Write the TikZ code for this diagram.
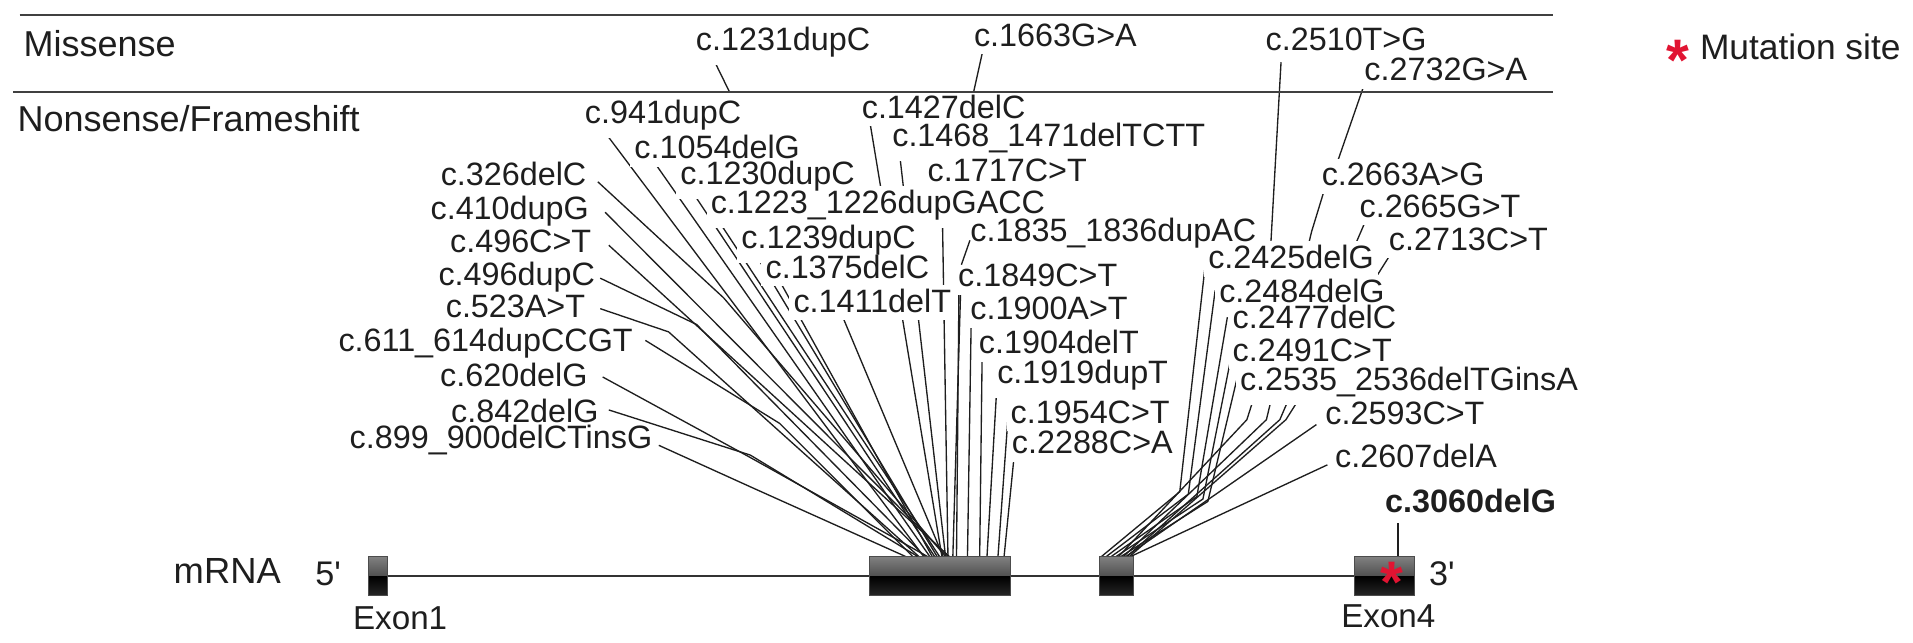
\documentclass[tikz,border=0pt]{standalone}
\usepackage{fontspec}
\setmainfont{Liberation Sans}
\newfontfamily\rawsans{Liberation Sans}
\usetikzlibrary{calc}
\pgfdeclarelayer{lines}
\pgfdeclarelayer{mask}
\pgfsetlayers{lines,mask,main}
\definecolor{ink}{RGB}{30,30,30}
\definecolor{mred}{RGB}{225,20,50}
\tikzset{
  lab/.style={font=\fontsize{13.25}{15}\selectfont, text=ink, inner sep=0pt},
  big/.style={font=\fontsize{14.75}{17}\selectfont, text=ink, inner sep=0pt},
  conn/.style={draw=ink, line width=0.55pt, line join=round},
  sepline/.style={draw=black!75, line width=0.9pt},
  backbone/.style={draw=black!80, line width=0.9pt},
  exon/.style={draw=black!70, line width=0.4pt, minimum height=16pt, inner sep=0pt, anchor=north west,
    path picture={
      \shade[top color=black!50, bottom color=black!88] (path picture bounding box.north west) rectangle (path picture bounding box.east);
      \shade[top color=black, bottom color=black!85] (path picture bounding box.west) rectangle (path picture bounding box.south east);
    }},
  redast/.style={font=\fontsize{24}{24}\selectfont\bfseries, text=mred, inner sep=0pt},
}
% #1 extra style, #2 name, #3 anchor, #4 position, #5 text
\newcommand\mutlab[5][]{%
  \node[lab,#1,anchor=#3] (#2) at (#4) {#5};
  \begin{pgfonlayer}{mask}
    \fill[white] ($(#2.north west)+(-3,-3)$) rectangle ($(#2.south east)+(3,6)$);
  \end{pgfonlayer}}
\begin{document}
\begin{tikzpicture}[x=0.5pt,y=-0.5pt]
\useasboundingbox (0,0) rectangle (1568,527);

% separators
\draw[sepline] (16,12) -- (1273,12);
\draw[sepline] (11,75.5) -- (1273,75.5);

\node[big, anchor=base west] (miss) at (19,46) {Missense};
\node[big, anchor=base west] (nons) at (14,108) {Nonsense/Frameshift};

% exons
\node[exon, minimum width=7.5pt] (e1) at (302,456) {};
\node[exon, minimum width=58pt] (e2) at (712,456) {};
\node[exon, minimum width=14pt] (e3) at (901,456) {};
\node[exon, minimum width=24.5pt] (e4) at (1110,456) {};
\begin{pgfonlayer}{lines}
\draw[backbone] (e1.east) -- (e4.west);
\end{pgfonlayer}

\node[font=\fontsize{14.9}{17}\selectfont, text=ink, inner sep=0pt, anchor=base west] (mrna) at (142,478) {mRNA};
\node[font=\rawsans\fontsize{14}{16}\selectfont, text=ink, inner sep=0pt, anchor=base west] (p5) at (258,480) {5'};
\node[font=\rawsans\fontsize{14}{16}\selectfont, text=ink, inner sep=0pt, anchor=base west] (p3) at (1171,480) {3'};
\node[font=\fontsize{13.6}{16}\selectfont, text=ink, inner sep=0pt, anchor=base west] (x1) at (289,516) {Exon1};
\node[font=\fontsize{13.6}{16}\selectfont, text=ink, inner sep=0pt, anchor=base west] (x4) at (1099,514) {Exon4};
\node[redast, anchor=base] (star2) at (1141,494) {*};

% legend
\node[redast, anchor=base] (star1) at (1375,66) {*};
\node[font=\fontsize{14.5}{17}\selectfont, text=ink, inner sep=0pt, anchor=base west] (leg) at (1393,49) {Mutation site};

% labels left
\mutlab{n941}{base east}{608,101}{c.941dupC}
\mutlab{n1054}{base east}{656,130}{c.1054delG}
\mutlab{n1230}{base east}{701,151}{c.1230dupC}
\mutlab{n1223}{base east}{857,175}{c.1223\_1226dupGACC}
\mutlab{n1239}{base east}{751,204}{c.1239dupC}
\mutlab{n1375}{base east}{762,228}{c.1375delC}
\mutlab{n1411}{base east}{780,256}{c.1411delT}
\mutlab{n326}{base east}{481,152}{c.326delC}
\mutlab{n410}{base east}{483,180}{c.410dupG}
\mutlab{n496a}{base east}{485,207}{c.496C>T}
\mutlab{n496b}{base east}{488,234}{c.496dupC}
\mutlab{n523}{base east}{480,260}{c.523A>T}
\mutlab{n611}{base east}{519,288}{c.611\_614dupCCGT}
\mutlab{n620}{base east}{482,317}{c.620delG}
\mutlab{n842}{base east}{491,346}{c.842delG}
\mutlab{n899}{base east}{535,368}{c.899\_900delCTinsG}
% labels middle / right
\mutlab{n1231}{base west}{570,41}{c.1231dupC}
\mutlab{n1663}{base west}{798,38}{c.1663G>A}
\mutlab{n1427}{base west}{706,97}{c.1427delC}
\mutlab{n1468}{base west}{731,120}{c.1468\_1471delTCTT}
\mutlab{n1717}{base west}{760,149}{c.1717C>T}
\mutlab{n1835}{base west}{795,198}{c.1835\_1836dupAC}
\mutlab{n1849}{base west}{785,235}{c.1849C>T}
\mutlab{n1900}{base west}{795,262}{c.1900A>T}
\mutlab{n1904}{base west}{802,290}{c.1904delT}
\mutlab{n1919}{base west}{817,314}{c.1919dupT}
\mutlab{n1954}{base west}{828,347}{c.1954C>T}
\mutlab{n2288}{base west}{829,372}{c.2288C>A}
\mutlab{n2510}{base west}{1037,41}{c.2510T>G}
\mutlab{n2732}{base west}{1118,66}{c.2732G>A}
\mutlab{n2663}{base west}{1083,152}{c.2663A>G}
\mutlab{n2665}{base west}{1114,178}{c.2665G>T}
\mutlab{n2713}{base west}{1138,205}{c.2713C>T}
\mutlab{n2425}{base west}{990,220}{c.2425delG}
\mutlab{n2484}{base west}{999,248}{c.2484delG}
\mutlab{n2477}{base west}{1010,269}{c.2477delC}
\mutlab{n2491}{base west}{1010,296}{c.2491C>T}
\mutlab{n2535}{base west}{1016,320}{c.2535\_2536delTGinsA}
\mutlab{n2593}{base west}{1086,348}{c.2593C>T}
\mutlab{n2607}{base west}{1094,383}{c.2607delA}
\mutlab[font=\fontsize{13.25}{15}\selectfont\bfseries]{n3060}{base west}{1135,420}{c.3060delG}

% connectors that run in front of neighbouring label boxes
\coordinate (s842) at (499,336); \coordinate (k842) at (615,373); \coordinate (t842) at (752,456);
\draw[conn] (s842) -- (k842) -- (t842);
\coordinate (s1835) at (795,197); \coordinate (k1835) at (788,217); \coordinate (t1835) at (781,456);
\draw[conn] (s1835) -- (k1835);

\begin{pgfonlayer}{lines}
% left cluster
\coordinate (s941) at (494,106); \coordinate (t941) at (757,456);
\coordinate (s1054) at (537,134); \coordinate (t1054) at (762,456);
\coordinate (s1230) at (566,155); \coordinate (t1230) at (766,456);
\coordinate (s1223) at (587,178); \coordinate (t1223) at (770,456);
\coordinate (s1239) at (619,208); \coordinate (t1239) at (768,456);
\coordinate (s1375) at (640,232); \coordinate (t1375) at (764,456);
\coordinate (s1411) at (690,258); \coordinate (t1411) at (773,456);
\coordinate (s326) at (490,149); \coordinate (k326) at (593,244); \coordinate (t326) at (775,456);
\coordinate (s410) at (496,174); \coordinate (t410) at (777,456);
\coordinate (s496a) at (499,201); \coordinate (t496a) at (778,456);
\coordinate (s496b) at (492,228); \coordinate (k496b) at (571,266); \coordinate (t496b) at (758,456);
\coordinate (s523) at (492,253); \coordinate (k523) at (548,272); \coordinate (t523) at (753,456);
\coordinate (s611) at (529,279); \coordinate (k611) at (639,347); \coordinate (t611) at (748,456);
\coordinate (s620) at (494,309); \coordinate (k620) at (615,375); \coordinate (t620) at (760,456);
\coordinate (s899) at (540,365); \coordinate (k899) at (615,399); \coordinate (t899) at (742,456);
\draw[conn] (s941) -- (t941);
\draw[conn] (s1054) -- (t1054);
\draw[conn] (s1230) -- (t1230);
\draw[conn] (s1223) -- (t1223);
\draw[conn] (s1239) -- (t1239);
\draw[conn] (s1375) -- (t1375);
\draw[conn] (s1411) -- (t1411);
\draw[conn] (s326) -- (k326) -- (t326);
\draw[conn] (s410) -- (t410);
\draw[conn] (s496a) -- (t496a);
\draw[conn] (s496b) -- (k496b) -- (t496b);
\draw[conn] (s523) -- (k523) -- (t523);
\draw[conn] (s611) -- (k611) -- (t611);
\draw[conn] (s620) -- (k620) -- (t620);
\draw[conn] (s899) -- (k899) -- (t899);
% middle
\coordinate (s1427) at (713,100); \coordinate (t1427) at (772,456);
\coordinate (s1468) at (737,123); \coordinate (t1468) at (775,456);
\coordinate (s1717) at (772,150); \coordinate (t1717) at (777,456);
\coordinate (s1849) at (786,238); \coordinate (t1849) at (784,456);
\coordinate (s1900) at (796,265); \coordinate (t1900) at (793,456);
\coordinate (s1904) at (805,292); \coordinate (t1904) at (803,456);
\coordinate (s1919) at (817,318); \coordinate (t1919) at (809,456);
\coordinate (s1954) at (826,345); \coordinate (t1954) at (818,456);
\coordinate (s2288) at (831,376); \coordinate (t2288) at (823,456);
\draw[conn] (s1427) -- (t1427);
\draw[conn] (s1468) -- (t1468);
\draw[conn] (s1717) -- (t1717);
\draw[conn] (k1835) -- (t1835);
\draw[conn] (s1849) -- (t1849);
\draw[conn] (s1900) -- (t1900);
\draw[conn] (s1904) -- (t1904);
\draw[conn] (s1919) -- (t1919);
\draw[conn] (s1954) -- (t1954);
\draw[conn] (s2288) -- (t2288);
% missense to separator
\coordinate (s1231) at (585,49); \coordinate (t1231) at (598,75.5);
\coordinate (s1663) at (805,44); \coordinate (t1663) at (798,75.5);
\draw[conn] (s1231) -- (t1231);
\draw[conn] (s1663) -- (t1663);
% right cluster
\coordinate (s2425) at (988,216); \coordinate (k2425) at (967,403); \coordinate (t2425) at (903,456);
\coordinate (s2484) at (996,238); \coordinate (k2484) at (974,405); \coordinate (t2484) at (907,456);
\coordinate (s2477) at (1006,260); \coordinate (k2477) at (981,407); \coordinate (t2477) at (911,456);
\coordinate (s2491) at (1010,288); \coordinate (k2491) at (986,409); \coordinate (t2491) at (915,456);
\coordinate (s2535) at (1014,310); \coordinate (k2535) at (990,411); \coordinate (t2535) at (919,456);
\draw[conn] (s2425) -- (k2425) -- (t2425);
\draw[conn] (s2484) -- (k2484) -- (t2484);
\draw[conn] (s2477) -- (k2477) -- (t2477);
\draw[conn] (s2491) -- (k2491) -- (t2491);
\draw[conn] (s2535) -- (k2535) -- (t2535);
\coordinate (s2510) at (1050,51); \coordinate (k2510) at (1036,300); \coordinate (m2510) at (1022,344); \coordinate (t2510) at (917,456);
\coordinate (s2732) at (1119,67); \coordinate (t2732) at (1093,142);
\coordinate (s2663) at (1086,154); \coordinate (k2663) at (1075,190); \coordinate (m2663) at (1038,344); \coordinate (t2663) at (921,456);
\coordinate (s2665) at (1118,184); \coordinate (k2665) at (1049,344); \coordinate (t2665) at (924,456);
\coordinate (s2713) at (1140,208); \coordinate (k2713) at (1054,344); \coordinate (t2713) at (926,456);
\coordinate (s2593) at (1079,348); \coordinate (t2593) at (923,456);
\coordinate (s2607) at (1088,381); \coordinate (t2607) at (927,456);
\draw[conn] (s2510) -- (k2510) -- (m2510) -- (t2510);
\draw[conn] (s2732) -- (t2732);
\draw[conn] (s2663) -- (k2663) -- (m2663) -- (t2663);
\draw[conn] (s2665) -- (k2665) -- (t2665);
\draw[conn] (s2713) -- (k2713) -- (t2713);
\draw[conn] (s2593) -- (t2593);
\draw[conn] (s2607) -- (t2607);
\coordinate (s3060) at (1146,429); \coordinate (t3060) at (1146,456);
\draw[conn] (s3060) -- (t3060);
\end{pgfonlayer}
\end{tikzpicture}
\end{document}
